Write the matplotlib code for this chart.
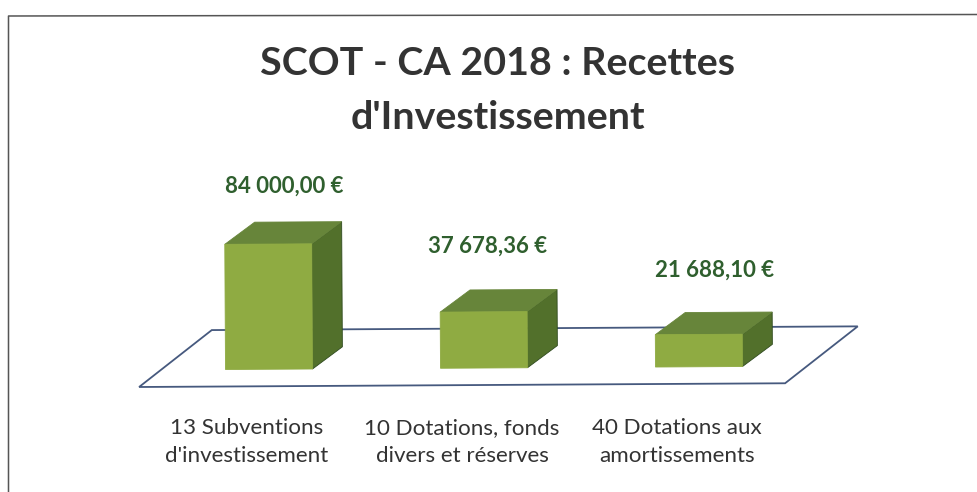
import numpy as np
import matplotlib
matplotlib.use("Agg")
import matplotlib.pyplot as plt
from matplotlib.lines import Line2D
from matplotlib.patches import Polygon
from matplotlib.transforms import Affine2D

# chart data
categories = ["13 Subventions\nd'investissement",
              "10 Dotations, fonds\ndivers et réserves",
              "40 Dotations aux\namortissements"]
values = [84000.00, 37678.36, 21688.10]
value_labels = ["84 000,00 €", "37 678,36 €", "21 688,10 €"]
title = "SCOT - CA 2018 : Recettes\nd'Investissement"

# look of the fake 3D bars
W, H = 977, 492
PX_PER_CAT = 215.0
PX_PER_EURO = 1.49 / 1000
FIRST_CAT_PX = 247
BASE_PX = 369.5
FLOOR_PX = 387
FRONT = "#8fab42"
TOP = "#67853a"
SIDE = "#52702b"
EDGE = "#2f4a1f"
FLOOR_LINE = "#46597e"
LABEL_GREEN = "#2f5f2e"
TEXT_DARK = "#333333"

plt.rcParams["font.family"] = ["Lato", "DejaVu Sans"]

fig = plt.figure(figsize=(W / 100, H / 100), dpi=100)
ax = fig.add_axes([0, (H - FLOOR_PX) / H, 1, FLOOR_PX / H])
ax.set_xlim(-FIRST_CAT_PX / PX_PER_CAT, (W - FIRST_CAT_PX) / PX_PER_CAT)
ax.set_ylim((BASE_PX - FLOOR_PX) / PX_PER_EURO, BASE_PX / PX_PER_EURO)
ax.patch.set_visible(False)
for s in ax.spines.values():
    s.set_visible(False)
ax.set_yticks([])

x = np.arange(len(values))
ax.set_xticks(x)
ax.set_xticklabels(categories, fontsize=16.1, color=TEXT_DARK, linespacing=1.5)
ax.tick_params(axis="x", length=0, pad=22.5)

# the scan is a bit crooked, marks lean up to the right
tilt = Affine2D().rotate_deg_around(225, H - BASE_PX, 0.33)
trans = ax.transData + tilt

bar_w = 87 / PX_PER_CAT
bar_shift = -22 / PX_PER_CAT
dx = 30 / PX_PER_CAT
dy = 22 / PX_PER_EURO

# floor
fl, fr = -108 / PX_PER_CAT, 538 / PX_PER_CAT
fb, bk = -17 / PX_PER_EURO, 39.5 / PX_PER_EURO
shift = 73 / PX_PER_CAT
ax.add_patch(Polygon([(fl, fb), (fr, fb), (fr + shift, bk), (fl + shift, bk)],
                     closed=True, fc="white", ec=FLOOR_LINE, lw=1.3,
                     transform=trans, zorder=1, clip_on=False))

# bars, front + top + side
for xi, v in zip(x, values):
    l = xi - bar_shift - bar_w / 2
    r = l + bar_w
    ax.add_patch(Polygon([(r, 0), (r + dx, dy), (r + dx, v + dy), (r, v)],
                         fc=SIDE, ec=EDGE, lw=0.6, transform=trans, zorder=2))
    ax.add_patch(Polygon([(l, v), (r, v), (r + dx, v + dy), (l + dx, v + dy)],
                         fc=TOP, ec=TOP, lw=0.6, transform=trans, zorder=2))
    ax.add_patch(Polygon([(l, 0), (r, 0), (r, v), (l, v)],
                         fc=FRONT, ec=FRONT, lw=0.6, transform=trans, zorder=3))

# value labels, offsets in points from the front top of each bar
nudges = [(11, 42), (2.5, 48.5), (11, 48.5)]
for xi, v, lab, nudge in zip(x, values, value_labels, nudges):
    ax.annotate(lab, (xi - bar_shift, v), xytext=nudge, textcoords="offset points",
                ha="center", va="center", fontsize=16, fontweight="bold",
                color=LABEL_GREEN, annotation_clip=False)

fig.text(498 / W, 1 - 90.5 / H, title, ha="center", va="center", fontsize=28.4,
         fontweight="bold", color=TEXT_DARK, linespacing=1.65)

# chart frame, only top and left survive in the scan
fig.add_artist(Line2D([8.5 / W, 8.5 / W, 1], [0, 1 - 16 / H, 1 - 14.5 / H],
                      color="#555555", lw=1.1))

fig.savefig("out.png", dpi=100)
